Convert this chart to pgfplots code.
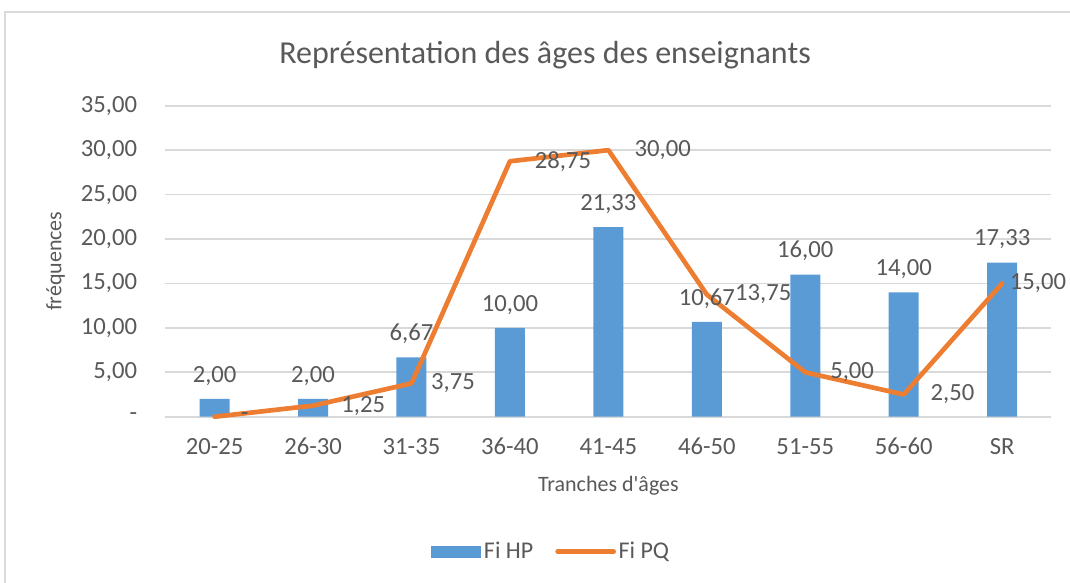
\documentclass[border=0pt]{standalone}
\usepackage{fontspec}
\setmainfont{Carlito}
\newfontfamily\plainfont{Carlito}[Ligatures=TeXOff]
\usepackage{pgfplots}
\pgfplotsset{compat=1.18}
\usepackage{pgfplotstable}

\definecolor{hpblue}{HTML}{5B9BD5}
\definecolor{pqorange}{HTML}{ED7D31}
\definecolor{txt}{HTML}{595959}
\definecolor{gridc}{HTML}{D9D9D9}

% Fi HP (bars)
\pgfplotstableread{
x y lbl
0 2.00 2,00
1 2.00 2,00
2 6.67 6,67
3 10.00 10,00
4 21.33 21,33
5 10.67 10,67
6 16.00 16,00
7 14.00 14,00
8 17.33 17,33
}\hpdata

% Fi PQ (line); dx = label offset to the right of the point, in pt
\pgfplotstableread{
x y lbl dx
0 0.00 - 18
1 1.25 1,25 19.5
2 3.75 3,75 13
3 28.75 28,75 17
4 30.00 30,00 18
5 13.75 13,75 19.5
6 5.00 5,00 17
7 2.50 2,50 18.5
8 15.00 15,00 4
}\pqdata

\begin{document}
\begin{tikzpicture}[x=0.75pt,y=0.75pt]
\path[use as bounding box, clip] (0,0) rectangle (1070,582);
\draw[gridc, line width=1.2pt] (5,-10) rectangle (1085,570);
\node[txt, font=\fontsize{24}{28}\selectfont] at (545,527) {Représentation des âges des enseignants};
\begin{axis}[
  at={(168,186)}, anchor=south west, scale only axis,
  width=664.5pt, height=233.25pt,
  xmin=-0.5, xmax=8.5, ymin=0, ymax=35,
  clip=false,
  xtick={0,...,8},
  xticklabels={20-25,26-30,31-35,36-40,41-45,46-50,51-55,56-60,SR},
  ytick={0,5,...,35},
  yticklabels={{-},{5,00},{10,00},{15,00},{20,00},{25,00},{30,00},{35,00}},
  axis line style={draw=none},
  major tick length=0pt,
  ymajorgrids, grid style={gridc, line width=1.2pt},
  tick label style={txt, font=\fontsize{18.5}{22}\selectfont},
  yticklabel style={inner sep=0pt, xshift=-21pt},
  xticklabel style={inner sep=0pt, yshift=-16pt},
  xlabel={\plainfont Tranches d'âges}, ylabel={fréquences},
  label style={txt, font=\fontsize{16.5}{20}\selectfont},
  xlabel style={at={(axis description cs:0.5,-0.222)}, anchor=center},
  ylabel style={at={(axis description cs:-0.124,0.5)}, anchor=center},
  legend style={at={(axis description cs:0.4355,-0.434)}, anchor=center,
    draw=none, fill=none, legend columns=2, text=txt,
    font=\fontsize{18}{22}\selectfont,
    /tikz/every even column/.append style={column sep=14.5pt}},
  legend cell align=left,
]
\addplot[ybar, bar width=22.5pt, fill=hpblue, draw=none,
  nodes near coords, point meta=explicit symbolic,
  nodes near coords style={txt, font=\fontsize{18.5}{22}\selectfont, anchor=south, inner sep=0pt, yshift=10pt},
  legend image code/.code={\fill[hpblue] (0pt,-4.5pt) rectangle (38pt,4.5pt);}]
  table[x=x, y=y, meta=lbl] {\hpdata};
\addlegendentry{Fi HP}
\addplot[pqorange, line width=3.5pt, line join=round, line cap=round, mark=none,
  nodes near coords, point meta=explicit symbolic,
  visualization depends on={\thisrow{dx} \as \labdx},
  nodes near coords style={txt, font=\fontsize{18.5}{22}\selectfont, anchor=west, inner sep=0pt, xshift=\labdx pt},
  legend image code/.code={\draw[pqorange, line width=3.5pt, line cap=round] (0pt,0pt) -- (42pt,0pt);}]
  table[x=x, y=y, meta=lbl] {\pqdata};
\addlegendentry{Fi PQ}
\end{axis}
\end{tikzpicture}
\end{document}
